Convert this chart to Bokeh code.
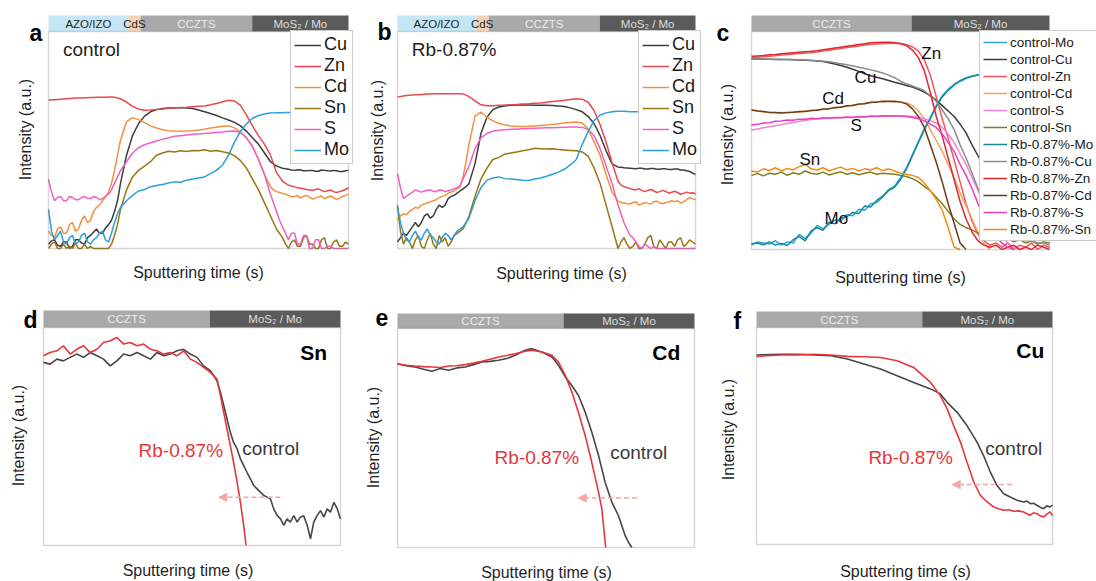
import math
import numpy as np
from bokeh.plotting import figure
from bokeh.models import Range1d, BoxAnnotation, Label, Legend, LegendItem, Arrow, NormalHead
from bokeh.layouts import column, row
from bokeh.embed import file_html
from bokeh.resources import INLINE
from bokeh.core.properties import value

FONT = "Liberation Sans"
NAN = float("nan")

# ---------------- data ----------------
# sputtering-time samples for panels a and b (arbitrary units)
t_ab = [0, 1, 2, 3, 4, 5, 6, 7, 8, 9, 10, 11, 12, 13, 14, 15, 16, 17, 18, 19, 20, 21, 22, 23, 24,
        26, 28, 30, 32, 34, 36, 38, 40, 42, 44, 46, 48, 50, 52, 54, 56, 58, 60, 62, 64, 66, 68, 70, 72,
        74, 75, 76, 77, 78, 79, 80, 81, 82, 83, 84, 85, 86, 87, 88, 89, 90, 91, 92, 93, 94, 95, 96,
        97, 98, 99, 100]

# panel a (control)
a_Cu = [.02, .035, .04, .015, .01, .03, .03, 0, .01, .04, .04, .025, .02, .05, .06,
        .075, .09, .07, .07, .095, .11, .13, .17, .22, .30,
        .43, .52, .575, .61, .63, .64, .645, .648, .649, .649, .648, .645, .638, .630, .622,
        .613, .602, .592, .581, .565, .540, .510, .480, .440,
        .40, .39, .38, .375, .37, .367, .365, .362, .36, .363, .362, .358, .358, .36, .36,
        .356, .356, .362, .36, .358, .357, .36, .358, .355, .355, .358, .36]
a_Zn = [.683, .685, .686, .687, .688, .689, .690, .691, .692, .693, .694, .694, .695, .695, .696,
        .696, .697, .697, .697, .697, .698, .698, .697, .694, .690,
        .675, .655, .643, .637, .638, .641, .643, .646, .648, .650, .651, .653, .655, .657, .662,
        .668, .676, .683, .680, .660, .615, .565, .520, .480,
        .430, .39, .35, .33, .31, .30, .292, .288, .284, .28, .278, .275, .272, .27, .268,
        .272, .275, .268, .262, .266, .270, .262, .258, .262, .266, .272, .280]
a_Cd = [.08, .06, .05, .09, .10, .07, .07, .11, .12, .08, .09, .13, .15, .12, .13,
        .17, .19, .2, .22, .24, .26, .30, .36, .43, .50,
        .585, .603, .594, .58, .565, .555, .547, .543, .541, .54, .541, .543, .546, .55, .555,
        .559, .563, .565, .556, .537, .51, .47, .41, .34,
        .285, .27, .262, .258, .254, .25, .245, .238, .24, .245, .232, .24, .245, .236, .228,
        .232, .238, .242, .23, .236, .242, .235, .226, .232, .24, .245, .25]
a_Sn = [0, .02, .03, 0, 0, .02, 0, .01, 0, .025, 0, 0, .02, 0, .01,
        0, 0, 0, 0, 0, 0, .02, .06, .11, .18,
        .27, .33, .36, .38, .40, .43, .44, .448, .445, .45, .447, .452, .45, .455, .448,
        .452, .446, .44, .428, .405, .37, .32, .27, .21,
        .15, .12, .09, .07, .05, .02, 0, .03, .04, .01, .01, .05, .06, .02, .02,
        0, 0, .04, .05, 0, 0, .03, .04, .01, .01, .03, .02]
a_S = [.32, .26, .22, .235, .24, .22, .22, .24, .235, .225, .225, .235, .24, .23, .23,
       .24, .235, .225, .23, .24, .25, .27, .30, .33, .36,
       .40, .44, .465, .478, .487, .495, .503, .51, .517, .52, .523, .526, .528, .53, .532,
       .535, .537, .54, .541, .535, .51, .47, .41, .34,
       .25, .21, .17, .13, .10, .07, .04, .07, .07, .02, .02, .06, .06, 0, 0,
       .04, .04, 0, 0, .01, .01, 0, 0, 0, 0, 0, 0]
a_Mo = [.18, .08, .04, .06, .08, .03, .02, .05, .06, .02, .03, .06, .07, .03, .02,
        .04, .05, .07, .08, .04, .03, .07, .12, .16, .19,
        .22, .245, .265, .272, .285, .29, .295, .302, .307, .305, .315, .32, .325, .33, .345,
        .36, .385, .43, .49, .54, .575, .60, .613, .62,
        .624, .625, .626, .626, .626, .627, .627, .627, .627, .628, .628, .628, .628, .628, .628,
        .629, .629, .629, .629, .63, .63, .63, .63, .63, .63, .63, .63]

# panel b (Rb-0.87%)
b_Cu = [.03, .05, .07, .06, .08, .1, .12, .1, .12, .15, .16, .14, .15, .18, .2,
        .19, .2, .23, .24, .245, .255, .265, .275, .285, .30,
        .39, .53, .605, .64, .652, .657, .66, .661, .661, .661, .66, .66, .66, .659, .657,
        .654, .648, .64, .63, .608, .575, .52, .45, .39,
        .375, .374, .372, .371, .37, .369, .368, .37, .37, .366, .366, .369, .369, .365, .365,
        .367, .367, .364, .364, .366, .366, .362, .362, .358, .355, .348, .34]
b_Zn = [.698, .701, .703, .705, .706, .707, .708, .709, .71, .711, .712, .712, .713, .713, .713,
        .713, .713, .713, .713, .713, .713, .713, .712, .707, .70,
        .68, .662, .658, .658, .66, .661, .663, .664, .666, .667, .669, .671, .674, .677, .68,
        .683, .687, .69, .688, .674, .635, .57, .49, .395,
        .31, .292, .285, .281, .277, .272, .27, .276, .268, .262, .268, .272, .266, .258, .262,
        .268, .263, .255, .259, .264, .258, .25, .254, .26, .255, .257, .252]
b_Cd = [.13, .15, .16, .155, .17, .18, .19, .185, .2, .205, .21, .215, .22, .225, .235,
        .24, .245, .255, .26, .265, .275, .285, .33, .40, .48,
        .61, .628, .605, .588, .576, .57, .565, .563, .562, .563, .565, .567, .569, .572, .575,
        .578, .581, .583, .578, .55, .49, .43, .34, .26,
        .218, .212, .21, .207, .205, .212, .215, .2, .205, .212, .208, .205, .215, .218, .21,
        .206, .212, .214, .22, .216, .22, .21, .215, .225, .235, .23, .225]
b_Sn = [.2, .08, .02, .05, .03, 0, .04, .06, .01, 0, .04, .07, .02, 0, .06,
        .03, .05, .01, .03, .06, .07, .08, .09, .12, .15,
        .24, .32, .37, .41, .42, .435, .44, .445, .45, .455, .462, .46, .458, .46, .456,
        .454, .452, .45, .445, .425, .37, .30, .20, .10,
        0, .03, .05, .02, 0, .01, .03, 0, 0, .02, .05, .06, .01, 0, .04,
        .02, 0, .03, .03, .01, .04, .05, .01, .02, .04, .03, .02]
b_S = [.345, .28, .23, .24, .25, .26, .27, .265, .26, .265, .268, .27, .264, .262, .27,
       .268, .262, .266, .27, .275, .28, .29, .32, .35, .38,
       .46, .51, .53, .54, .545, .547, .549, .55, .552, .553, .554, .555, .556, .557, .558,
       .559, .56, .56, .558, .548, .52, .46, .38, .30,
       .20, .16, .12, .09, .06, .05, .03, .01, 0, .02, .01, 0, .01, 0, 0,
       0, 0, 0, 0, 0, 0, 0, 0, 0, 0, 0, 0]
b_Mo = [.19, .12, .07, .04, .03, .06, .08, .05, .04, .07, .09, .06, .05, .03, .02,
        .05, .07, .06, .04, .06, .08, .09, .1, .12, .14,
        .22, .28, .315, .325, .33, .322, .32, .318, .315, .313, .32, .325, .333, .342, .352,
        .365, .385, .41, .48, .54, .59, .615, .625, .63,
        .632, .632, .632, .631, .63, .63, .63, .63, .63, .63, .63, .63, .63, .63, .63,
        .63, .63, .63, .63, .63, .63, .63, .63, .63, .63, .63, .63]

# panel c (zoomed comparison); NAN = below the visible window
t_c = [0, 2, 4, 6, 8, 10, 12, 14, 16, 18,
       20, 22, 24, 26, 28, 30, 32, 34, 36, 38,
       40, 42, 44, 46, 48, 50, 52, 54, 56, 58,
       60, 62, 64, 66, 68, 70, 72, 74, 76, 78,
       80, 82, 84, 86, 88, 90, 92, 94, 96, 98,
       100]
c_ctl_Mo = [.02, .035, .03, .025, .04, .02, .035, .03, .07, .05,
            .075, .11, .095, .115, .135, .13, .16, .155, .185, .18,
            .21, .215, .24, .275, .29, .33, .375, .435, .495, .555,
            .605, .66, .705, .735, .758, .775, .788, .796, .802, .806,
            .809, .811, .812, .813, .814, .815, .815, .816, .816, .817,
            .817]
c_rb_Mo = [.026, .03, .022, .035, .02, .028, .018, .045, .06, .04,
           .085, .10, .088, .125, .118, .145, .15, .17, .165, .20,
           .195, .225, .245, .27, .285, .32, .37, .43, .49, .55,
           .60, .655, .70, .73, .755, .772, .785, .793, .80, .805,
           .808, .81, .812, .813, .814, .815, .815, .816, .816, .817,
           .817]
c_ctl_Cu = [.874, .874, .873, .873, .872, .872, .871, .87, .869, .868,
            .867, .865, .862, .857, .851, .844, .836, .827, .817, .806,
            .797, .79, .783, .775, .767, .76, .752, .745, .735, .722,
            .705, .685, .66, .635, .61, .575, .535, .48, .43, .38,
            .34, .30, .27, .24, .22, .20, .18, .17, .16, .15,
            .14]
c_rb_Cu = [.874, .874, .874, .873, .873, .872, .872, .871, .87, .869,
           .868, .866, .864, .861, .857, .852, .847, .842, .836, .83,
           .824, .818, .81, .80, .788, .772, .76, .75, .74, .728,
           .705, .68, .64, .60, .55, .48, .42, .35, .28, .22,
           .17, .13, .10, .08, .06, .05, .04, .04, .03, .03,
           .02]
c_ctl_Zn = [.88, .882, .884, .887, .889, .892, .894, .897, .899, .901,
            .903, .906, .91, .914, .918, .922, .926, .93, .934, .938,
            .941, .943, .944, .946, .946, .944, .94, .93, .91, .87,
            .80, .70, .60, .51, .41, .31, .21, .13, .07, .04,
            .02, .03, .01, .03, 0, .02, .01, .03, 0, .02,
            .01]
c_rb_Zn = [.886, .888, .89, .893, .895, .898, .90, .903, .905, .907,
           .909, .912, .916, .92, .924, .928, .932, .936, .94, .944,
           .948, .95, .951, .951, .949, .945, .935, .915, .88, .82,
           .72, .61, .52, .42, .32, .22, .14, .08, .04, .02,
           .01, .02, 0, .01, .02, 0, .01, 0, .02, .01,
           0]
c_ctl_Cd = [.64, .636, .631, .629, .627, .629, .627, .631, .63, .635,
            .636, .641, .642, .647, .649, .655, .657, .663, .665, .671,
            .673, .678, .678, .681, .678, .677, .672, .66, .635, .60,
            .55, .50, .45, .39, .33, .26, .20, .14, .08, .03,
            0, NAN, NAN, NAN, NAN, NAN, NAN, NAN, NAN, NAN,
            NAN]
c_rb_Cd = [.64, .635, .633, .629, .628, .626, .629, .63, .633, .633,
           .638, .639, .644, .645, .651, .653, .659, .661, .667, .669,
           .675, .676, .68, .679, .68, .676, .668, .645, .61, .56,
           .48, .40, .31, .21, .12, .03, 0, NAN, NAN, NAN,
           NAN, NAN, NAN, NAN, NAN, NAN, NAN, NAN, NAN, NAN,
           NAN]
c_ctl_S = [.548, .553, .558, .563, .568, .573, .578, .583, .588, .592,
           .596, .599, .601, .603, .604, .605, .606, .607, .608, .609,
           .61, .611, .612, .613, .613, .613, .612, .61, .607, .60,
           .59, .58, .56, .53, .49, .44, .39, .33, .27, .21,
           .15, .10, .06, .03, .01, 0, NAN, NAN, NAN, NAN,
           NAN]
c_rb_S = [.571, .574, .580, .581, .588, .589, .594, .593, .598, .597,
          .602, .600, .604, .602, .606, .604, .608, .606, .610, .608,
          .612, .610, .614, .612, .614, .611, .61, .605, .60, .59,
          .575, .56, .53, .49, .45, .39, .34, .28, .21, .15,
          .10, .06, .03, .01, 0, NAN, NAN, NAN, NAN, NAN,
          NAN]
c_ctl_Sn = [.34, .348, .338, .35, .345, .355, .34, .352, .345, .36,
            .35, .345, .355, .342, .35, .356, .345, .352, .343, .35,
            .355, .345, .35, .348, .345, .34, .335, .325, .31, .29,
            .27, .24, .21, .175, .14, .115, .10, .09, .075, .065,
            .055, .06, .045, .05, .035, .045, .03, .04, .025, .035,
            .03]
c_rb_Sn = [.36, .355, .37, .362, .375, .36, .372, .365, .38, .39,
           .37, .365, .375, .36, .37, .378, .365, .372, .36, .37,
           .365, .375, .362, .37, .36, .35, .345, .34, .33, .305,
           .27, .23, .18, .10, .01, 0, NAN, NAN, NAN, NAN,
           NAN, NAN, NAN, NAN, NAN, NAN, NAN, NAN, NAN, NAN,
           NAN]

# panel d (Sn): (time, intensity)
d_rb = [(0, .87), (2.2, .885), (4.5, .893), (6.7, .916), (9.0, .878), (11.2, .90),
        (13.5, .916), (15.7, .885), (18.0, .90), (20.2, .931), (22.5, .939),
        (24.7, .954), (27.0, .924), (29.2, .931), (31.5, .916), (33.7, .924),
        (36.0, .90), (38.2, .893), (40.4, .878), (42.7, .885), (44.9, .87),
        (47.2, .893), (49.4, .855), (51.7, .84), (53.9, .817), (56.2, .794),
        (58.4, .763), (59.6, .687), (60.7, .61), (61.8, .534), (62.9, .458),
        (64.0, .382), (65.2, .29), (66.3, .198), (67.4, .092), (68.2, 0)]
d_ctl = [(0, .84), (2.2, .832), (4.5, .855), (6.7, .847), (9.0, .863), (11.2, .878),
         (13.5, .863), (15.7, .885), (18.0, .87), (20.2, .855), (22.5, .824),
         (24.7, .847), (27.0, .878), (29.2, .87), (31.5, .885), (33.7, .87),
         (36.0, .855), (38.2, .885), (40.4, .87), (42.7, .878), (44.9, .893),
         (47.2, .90), (49.4, .878), (51.7, .863), (53.9, .824), (56.2, .802),
         (58.4, .756), (59.6, .702), (60.7, .641), (61.8, .58), (62.9, .519),
         (64.0, .473), (65.2, .443), (66.3, .397), (67.4, .366), (68.5, .336),
         (69.7, .305), (70.8, .275), (71.9, .26), (74.2, .229), (76.4, .214),
         (77.5, .168), (78.7, .137), (79.8, .122), (80.9, .092), (82.0, .122),
         (83.1, .107), (84.3, .137), (85.4, .107), (86.5, .13), (87.6, .137),
         (88.8, .092), (89.9, .031), (91.0, .107), (92.1, .137), (93.3, .16),
         (94.4, .13), (95.5, .168), (96.6, .153), (97.8, .198), (98.9, .168),
         (100, .122)]

# panel e (Cd)
e_rb = [(0, .837), (3.1, .832), (5.9, .829), (8.8, .826), (11.6, .824), (14.4, .822),
        (17.2, .829), (20.0, .83), (22.8, .835), (25.6, .842), (28.4, .85),
        (31.2, .86), (34.0, .87), (36.8, .877), (39.6, .885), (43.0, .896),
        (45.2, .901), (48.6, .893), (52.0, .878), (54.2, .847), (56.5, .786),
        (58.7, .71), (60.9, .618), (63.2, .511), (65.4, .389), (67.7, .252),
        (68.8, .176), (70.1, 0)]
e_ctl = [(0, .84), (3.1, .829), (5.9, .824), (8.8, .814), (11.6, .805), (14.4, .817),
         (17.2, .809), (20.0, .82), (22.8, .824), (25.6, .835), (28.4, .847),
         (31.2, .85), (34.0, .855), (36.8, .863), (39.6, .878), (43.0, .901),
         (45.2, .908), (48.6, .893), (52.0, .87), (54.2, .832), (56.5, .779),
         (58.7, .74), (60.9, .695), (63.2, .618), (65.4, .527), (67.7, .42),
         (69.9, .298), (72.2, .206), (74.4, .145), (76.7, .053), (77.8, .023),
         (78.9, 0)]

# panel f (Cu)
f_rb = [(0, .867), (8.2, .873), (13.8, .874), (19.4, .877), (25.1, .873), (30.7, .867),
        (36.3, .865), (41.9, .862), (47.5, .847), (53.1, .816), (58.8, .747),
        (62.1, .686), (64.4, .625), (66.6, .548), (68.9, .472), (71.1, .38),
        (73.4, .288), (75.6, .227), (77.9, .196), (80.1, .173), (81.8, .165),
        (83.5, .158), (85.2, .16), (86.9, .153), (88.6, .155), (90.2, .15),
        (91.4, .142), (92.5, .135), (93.6, .146), (94.7, .142), (95.8, .132),
        (97.0, .127), (98.1, .14), (99.2, .15), (100, .132)]
f_ctl = [(0, .873), (8.2, .877), (13.8, .877), (19.4, .873), (25.1, .87), (30.7, .855),
         (36.3, .832), (41.9, .809), (47.5, .778), (53.1, .747), (58.8, .717),
         (62.1, .694), (64.4, .655), (67.8, .609), (71.1, .548), (74.5, .472),
         (76.7, .41), (79.0, .334), (81.2, .273), (83.5, .234), (85.7, .219),
         (88.0, .204), (90.2, .196), (91.4, .2), (92.5, .188), (93.6, .19),
         (94.7, .181), (95.8, .172), (97.0, .165), (98.1, .178), (99.2, .173),
         (100, .181)]

# layer bars: names and boundaries (sputtering-time units)
layers_ab = ["AZO/IZO", "CdS", "CCZTS", "MoS\u2082 / Mo"]
bounds_a = [0, 26.6, 30.7, 67.9, 100]
bounds_b = [0, 26.2, 30.6, 67.9, 100]
layers_cdef = ["CCZTS", "MoS\u2082 / Mo"]
bounds_c = [0, 53.7, 100]
bounds_d = [0, 56.0, 100]
bounds_e = [0, 55.9, 100]
bounds_f = [0, 56.0, 100]

# shift arrows (x_start, x_end, y)
arrow_d = (79.8, 59.0, .221)
arrow_e = (80.6, 60.9, .226)
arrow_f = (86.3, 66.1, .276)

# ---------------- styling ----------------
LAYER_FILL = {"AZO/IZO": "#c6e6f5", "CdS": "#f2d3b6", "CCZTS": "#a9a9a9", "MoS\u2082 / Mo": "#5b5b5b"}
LAYER_TEXT = {"AZO/IZO": "#262626", "CdS": "#262626", "CCZTS": "#ececec", "MoS\u2082 / Mo": "#dedede"}
COL = {"Cu": "#3d3d3d", "Zn": "#e8494f", "Cd": "#f5903f", "Sn": "#9a7514", "S": "#f060c0", "Mo": "#2a9fd9"}
C_COL = {"control-Mo": "#2aa6dc", "control-Cu": "#3a3a3a", "control-Zn": "#f0555c",
         "control-Cd": "#f5a35a", "control-S": "#f782cf", "control-Sn": "#7f7f1f",
         "Rb-0.87%-Mo": "#178a99", "Rb-0.87%-Cu": "#8c8c8c", "Rb-0.87%-Zn": "#e2262b",
         "Rb-0.87%-Cd": "#6a3b17", "Rb-0.87%-S": "#ea3fbd", "Rb-0.87%-Sn": "#f38a14"}
RED = "#e8353b"
GREY = "#474747"
ARROW = "#f5a6a6"
TXT = "#1f1f1f"


class Panel:
    """Figure whose whole canvas is the plotting frame; the visible box spans x 0..100, y 0..1."""

    def __init__(self, W, H, BL, BR, BT, BB, bar):
        self.BL, self.BB = BL, BB
        self.main = BB - BT - bar
        self.kx = 100.0 / (BR - BL)
        self.frac = bar / self.main
        self.H = H
        self.p = figure(width=W, height=H,
                        x_range=Range1d(-BL * self.kx, 100 + (W - BR) * self.kx),
                        y_range=Range1d(-(H - BB) / self.main, BB / self.main),
                        x_axis_type=None, y_axis_type=None, min_border=0,
                        output_backend="svg", toolbar_location=None, outline_line_color=None)
        self.p.grid.visible = False
        self.p.add_layout(BoxAnnotation(left=0, right=100, bottom=0, top=1, fill_color=None,
                                        line_color="#7b7b7b", line_width=1.5))

    def X(self, px):
        return (px - self.BL) * self.kx

    def Y(self, py):
        return (self.BB - py) / self.main

    def label_px(self, px, py, s, size, color=TXT, bold=False, align="center",
                 baseline="middle", angle=0.0):
        self.p.add_layout(Label(x=self.X(px), y=self.Y(py), text=s, text_font=FONT,
                                text_font_size=size, text_font_style="bold" if bold else "normal",
                                text_color=color, text_align=align, text_baseline=baseline,
                                angle=angle))

    def label(self, x, y, s, size, color=TXT, bold=False, align="left"):
        self.p.add_layout(Label(x=x, y=y, text=s, text_font=FONT, text_font_size=size,
                                text_font_style="bold" if bold else "normal", text_color=color,
                                text_align=align, text_baseline="middle"))

    def axes_labels(self, ylab, xlab):
        self.label_px(ylab[0], ylab[1], "Intensity (a.u.)", "16px", angle=math.pi / 2)
        self.label_px(xlab[0], xlab[1], "Sputtering time (s)", "16px")

    def letter(self, px, py, s):
        self.label_px(px, py, s, "23px", color="black", bold=True, align="left",
                      baseline="alphabetic")

    def layer_bar(self, names, bounds):
        f = self.frac
        self.p.quad(left=bounds[:-1], right=bounds[1:], bottom=1.0, top=1 + f,
                    fill_color=[LAYER_FILL[n] for n in names], line_color=None)
        centers = [(a + b) / 2 for a, b in zip(bounds[:-1], bounds[1:])]
        self.p.text(x=centers, y=[1 + f / 2] * len(names), text=names,
                    text_color=[LAYER_TEXT[n] for n in names], text_font=value(FONT),
                    text_font_size="11.5px", text_align="center", text_baseline="middle")

    def legend(self, items, left_px, top_px, height_px, **kw):
        loc = (left_px, self.H - top_px - height_px)
        lg = Legend(items=items, location=loc, label_text_font=FONT, label_text_color="#1a1a1a",
                    margin=0, border_line_color="#9a9a9a", border_line_width=1,
                    background_fill_color="white", background_fill_alpha=1, **kw)
        self.p.add_layout(lg)


def overview(pn, data, tag, bounds, leg_left):
    pn.layer_bar(layers_ab, bounds)
    items = []
    for name in ["Cu", "Zn", "Cd", "Sn", "S", "Mo"]:
        r = pn.p.line(t_ab, data[name], line_color=COL[name], line_width=1.5)
        items.append(LegendItem(label=name, renderers=[r]))
    pn.legend(items, leg_left, 30, 134, label_text_font_size="18px", glyph_width=27,
              glyph_height=20, label_height=20, label_standoff=3, spacing=0, padding=3)
    pn.label(4.8, .917, tag, "19px")


# ---- panel a
pa = Panel(365, 290, 48, 348, 15, 248, 16)
overview(pa, {"Cu": a_Cu, "Zn": a_Zn, "Cd": a_Cd, "Sn": a_Sn, "S": a_S, "Mo": a_Mo},
         "control", bounds_a, 290)
pa.axes_labels((25, 129), (198, 272))
pa.letter(29, 32, "a")

# ---- panel b
pb = Panel(350, 290, 32, 330, 15, 248, 16)
overview(pb, {"Cu": b_Cu, "Zn": b_Zn, "Cd": b_Cd, "Sn": b_Sn, "S": b_S, "Mo": b_Mo},
         "Rb-0.87%", bounds_b, 273)
pb.axes_labels((12, 130), (196, 273))
pb.letter(12, 31, "b")

# ---- panel c
pc = Panel(381, 290, 36, 334, 15, 249, 16)
pc.layer_bar(layers_cdef, bounds_c)
c_series = {"control-Mo": c_ctl_Mo, "control-Cu": c_ctl_Cu, "control-Zn": c_ctl_Zn,
            "control-Cd": c_ctl_Cd, "control-S": c_ctl_S, "control-Sn": c_ctl_Sn,
            "Rb-0.87%-Mo": c_rb_Mo, "Rb-0.87%-Cu": c_rb_Cu, "Rb-0.87%-Zn": c_rb_Zn,
            "Rb-0.87%-Cd": c_rb_Cd, "Rb-0.87%-S": c_rb_S, "Rb-0.87%-Sn": c_rb_Sn}
c_items = []
for name, ys in c_series.items():
    r = pc.p.line(np.array(t_c, dtype=float), np.array(ys, dtype=float),
                  line_color=C_COL[name], line_width=1.5)
    c_items.append(LegendItem(label=name, renderers=[r]))
for s, x, y in [("Zn", 57, .90), ("Cu", 34.6, .79), ("Cd", 23.7, .693),
                ("S", 33.2, .57), ("Sn", 16.1, .412), ("Mo", 24.5, .14)]:
    pc.label(x, y, s, "17px", color="#111111")
pc.legend(c_items, 264, 32, 209, label_text_font_size="13.5px", glyph_width=24,
          glyph_height=16, label_height=16, label_standoff=3, spacing=1, padding=3)
pc.axes_labels((12, 134), (185, 277))
pc.letter(1, 32, "c")


# ---- panels d, e, f
def detail(pn, bounds, rb, ctl, arrow, elem, rb_pos, ctl_pos, el_pos):
    pn.layer_bar(layers_cdef, bounds)
    pn.p.line([q[0] for q in ctl], [q[1] for q in ctl], line_color=GREY, line_width=1.6)
    pn.p.line([q[0] for q in rb], [q[1] for q in rb], line_color=RED, line_width=1.6)
    pn.p.add_layout(Arrow(end=NormalHead(size=8, fill_color=ARROW, line_color=ARROW),
                          x_start=arrow[0], y_start=arrow[2], x_end=arrow[1], y_end=arrow[2],
                          line_color=ARROW, line_width=1.5, line_dash="5 3"))
    pn.label(rb_pos[0], rb_pos[1], "Rb-0.87%", "19px", color=RED)
    pn.label(ctl_pos[0], ctl_pos[1], "control", "19px", color="#3a3a3a")
    pn.label(el_pos[0], el_pos[1], elem, "21px", color="black", bold=True, align="right")


pd_ = Panel(360, 291, 43, 340, 20, 255, 17)
detail(pd_, bounds_d, d_rb, d_ctl, arrow_d, "Sn", (32.0, .435), (66.9, .443), (95.5, .885))
pd_.axes_labels((17.5, 145), (187.5, 280))
pd_.letter(23, 29, "d")

pe = Panel(355, 291, 37, 334, 23, 257, 15)
detail(pe, bounds_e, e_rb, e_ctl, arrow_e, "Cd", (32.7, .41), (71.6, .435), (95.2, .89))
pe.axes_labels((12.5, 147), (186, 282))
pe.letter(15, 27, "e")

pf = Panel(381, 291, 41, 337, 21, 254, 16)
detail(pf, bounds_f, f_rb, f_ctl, arrow_f, "Cu", (37.8, .40), (77.3, .444), (97.2, .896))
pf.axes_labels((13, 139), (190, 281))
pf.letter(18, 30, "f")

layout = column(row(pa.p, pb.p, pc.p), row(pd_.p, pe.p, pf.p))
open("out.html", "w").write(file_html(layout, INLINE))
